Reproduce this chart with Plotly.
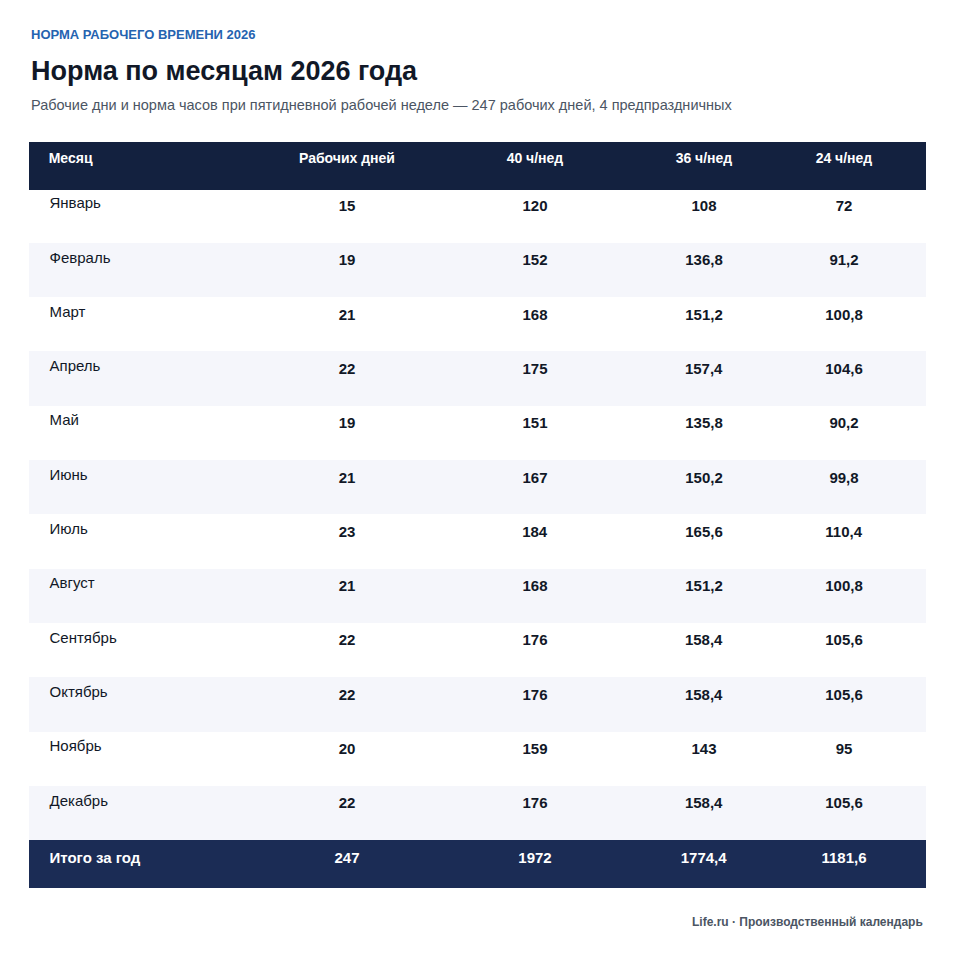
import plotly.graph_objects as go

# data
months = ["Январь", "Февраль", "Март", "Апрель", "Май", "Июнь", "Июль",
          "Август", "Сентябрь", "Октябрь", "Ноябрь", "Декабрь"]
work_days = [15, 19, 21, 22, 19, 21, 23, 21, 22, 22, 20, 22]
hours_40 = [120, 152, 168, 175, 151, 167, 184, 168, 176, 176, 159, 176]
hours_36 = [108, 136.8, 151.2, 157.4, 135.8, 150.2, 165.6, 151.2, 158.4, 158.4, 143, 158.4]
hours_24 = [72, 91.2, 100.8, 104.6, 90.2, 99.8, 110.4, 100.8, 105.6, 105.6, 95, 105.6]
total_label = "Итого за год"
totals = [247, 1972, 1774.4, 1181.6]
headers = ["Месяц", "Рабочих дней", "40 ч/нед", "36 ч/нед", "24 ч/нед"]


def fmt(v):
    s = ("%g" % v).replace(".", ",")
    return "<b>" + s + "</b>"


# shift to compensate the page offset
dx, dy = 9, 7
W, H = 956, 959

col_month = ["   " + m for m in months] + ["<b>   " + total_label + "</b>"]
cols = [col_month]
for i, series in enumerate([work_days, hours_40, hours_36, hours_24]):
    cols.append([fmt(v) for v in series] + [fmt(totals[i])])

n = len(months)
row_fill = ["#ffffff" if i % 2 == 0 else "#f5f6fb" for i in range(n)] + ["#1b2c55"]
row_font = ["#111827"] * n + ["#ffffff"]

fig = go.Figure(go.Table(
    domain=dict(x=[(30 - dx) / W, (926 - dx) / W], y=[1 - (888 - dy) / H, 1 - (141 - dy) / H]),
    columnwidth=[240, 156, 220, 118, 162],
    header=dict(values=["<b>   Месяц</b>"] + ["<b>" + h + "</b>" for h in headers[1:]],
                fill_color="#13213f", line_color="#13213f",
                font=dict(color="white", size=14, family="Liberation Sans"),
                align=["left", "center", "center", "center", "center"],
                height=47),
    cells=dict(values=cols,
               fill_color=[row_fill] * 5,
               line=dict(color=[row_fill] * 5, width=1),
               font=dict(color=[row_font] * 5, size=15, family="Liberation Sans"),
               align=["left", "center", "center", "center", "center"],
               height=54.3),
))

fig.update_layout(
    width=W, height=H, paper_bgcolor="white",
    margin=dict(l=0, r=0, t=0, b=0),
    annotations=[
        dict(text="<b>НОРМА РАБОЧЕГО ВРЕМЕНИ 2026</b>", x=(30 - dx) / W, y=1 - (34 - dy) / H,
             xref="paper", yref="paper", xanchor="left", yanchor="middle", showarrow=False,
             font=dict(size=13, color="#2563b0", family="Liberation Sans")),
        dict(text="<b>Норма по месяцам 2026 года</b>", x=(30 - dx) / W, y=1 - (70 - dy) / H,
             xref="paper", yref="paper", xanchor="left", yanchor="middle", showarrow=False,
             font=dict(size=27, color="#111827", family="Liberation Sans")),
        dict(text="Рабочие дни и норма часов при пятидневной рабочей неделе — 247 рабочих дней, 4 предпраздничных",
             x=(30 - dx) / W, y=1 - (104 - dy) / H, xref="paper", yref="paper", xanchor="left",
             yanchor="middle", showarrow=False,
             font=dict(size=14.5, color="#4b5563", family="Liberation Sans")),
        dict(text="<b>Life.ru · Производственный календарь</b>", x=(926 - dx) / W, y=1 - (921 - dy) / H,
             xref="paper", yref="paper", xanchor="right", yanchor="middle", showarrow=False,
             font=dict(size=12, color="#4b5563", family="Liberation Sans")),
    ],
)

fig.write_html("out.html")
